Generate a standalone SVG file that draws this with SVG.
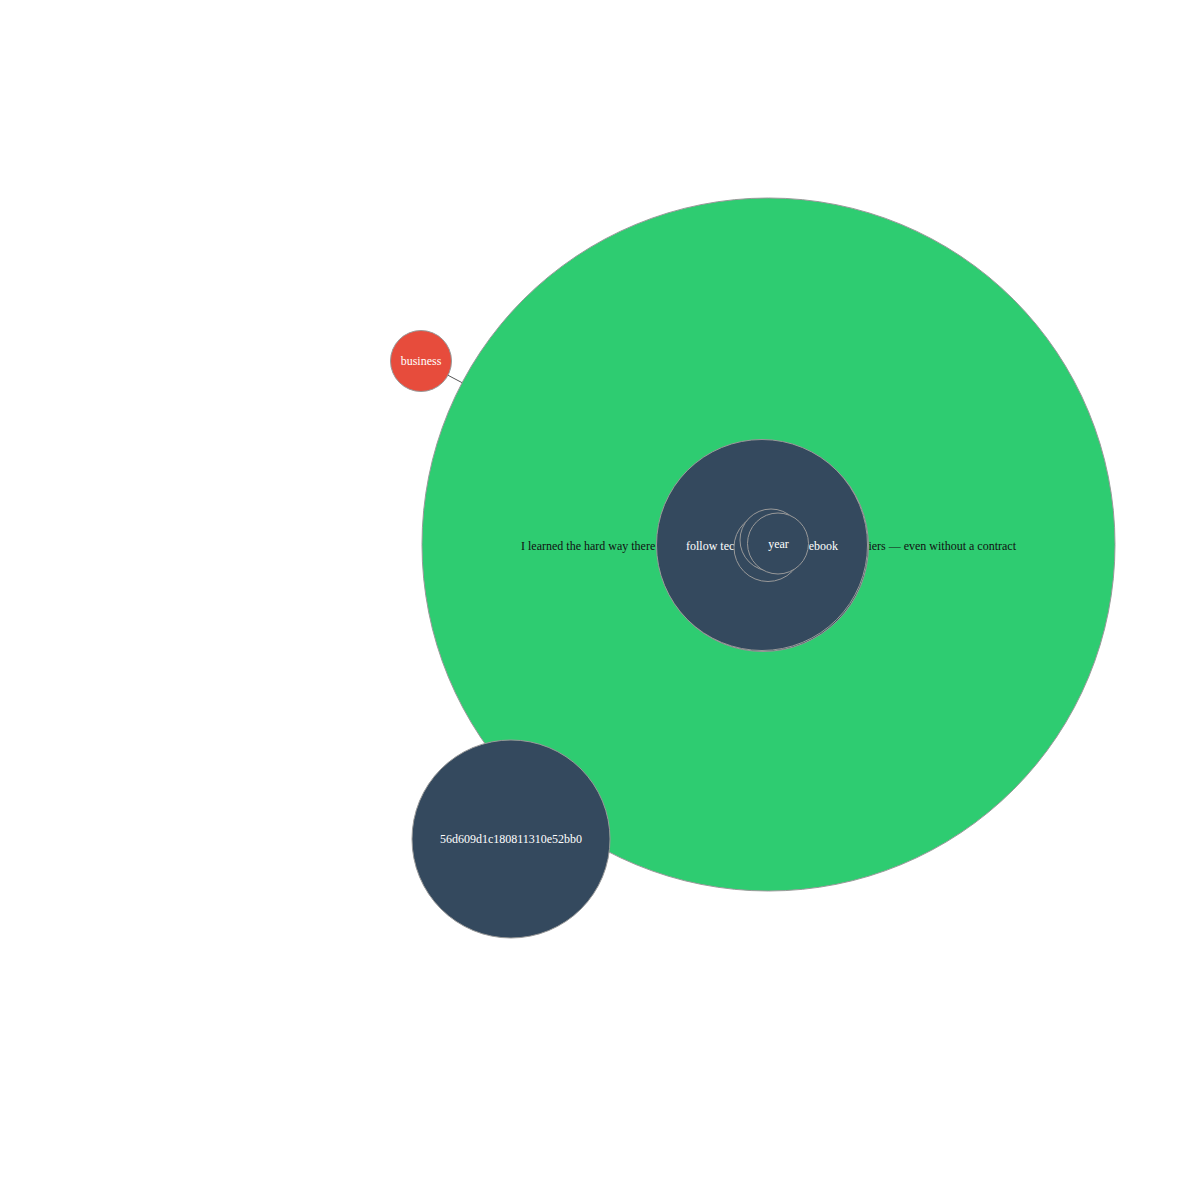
<svg xmlns="http://www.w3.org/2000/svg" width="1200" height="1200" viewBox="0 0 1200 1200">
<style>
.n{stroke:#999;stroke-width:1}
.g{fill:#2ecc71}
.d{fill:#34495e}
.r{fill:#e74c3c}
text{font-family:"Liberation Serif","Times New Roman",serif;font-size:12px}
.w{fill:#fff}
.k{fill:#111}
.e{stroke:#555;stroke-width:1}
</style>
<rect width="1200" height="1200" fill="#fff"/>
<g id="connectors">
<line class="e" x1="421" y1="361" x2="768.5" y2="544.5"/>
</g>
<g id="node-text">
<circle class="n g" cx="768.5" cy="544.5" r="346.5"/>
<text class="k" x="521" y="550">I learned the hard way there</text>
<text class="k" x="1016" y="550" text-anchor="end">iers — even without a contract</text>
</g>
<g id="node-hub">
<circle class="n d" cx="763" cy="546" r="105.5"/>
<circle class="n d" cx="762" cy="545" r="105.5"/>
<text class="w" x="686" y="550">follow tec</text>
<text class="w" x="838" y="550" text-anchor="end">ebook</text>
</g>
<g id="node-a">
<circle class="n d" cx="768" cy="547.5" r="34"/>
</g>
<g id="node-b">
<circle class="n d" cx="771" cy="540" r="31"/>
</g>
<g id="node-year">
<circle class="n d" cx="778" cy="543.5" r="30.5"/>
<text class="w" x="778.5" y="548" text-anchor="middle">year</text>
</g>
<g id="node-business">
<circle class="n r" cx="421" cy="361" r="30.5"/>
<text class="w" x="421" y="365" text-anchor="middle">business</text>
</g>
<g id="node-hash">
<circle class="n d" cx="511" cy="839" r="99"/>
<text class="w" x="511" y="843" text-anchor="middle">56d609d1c180811310e52bb0</text>
</g>
</svg>
